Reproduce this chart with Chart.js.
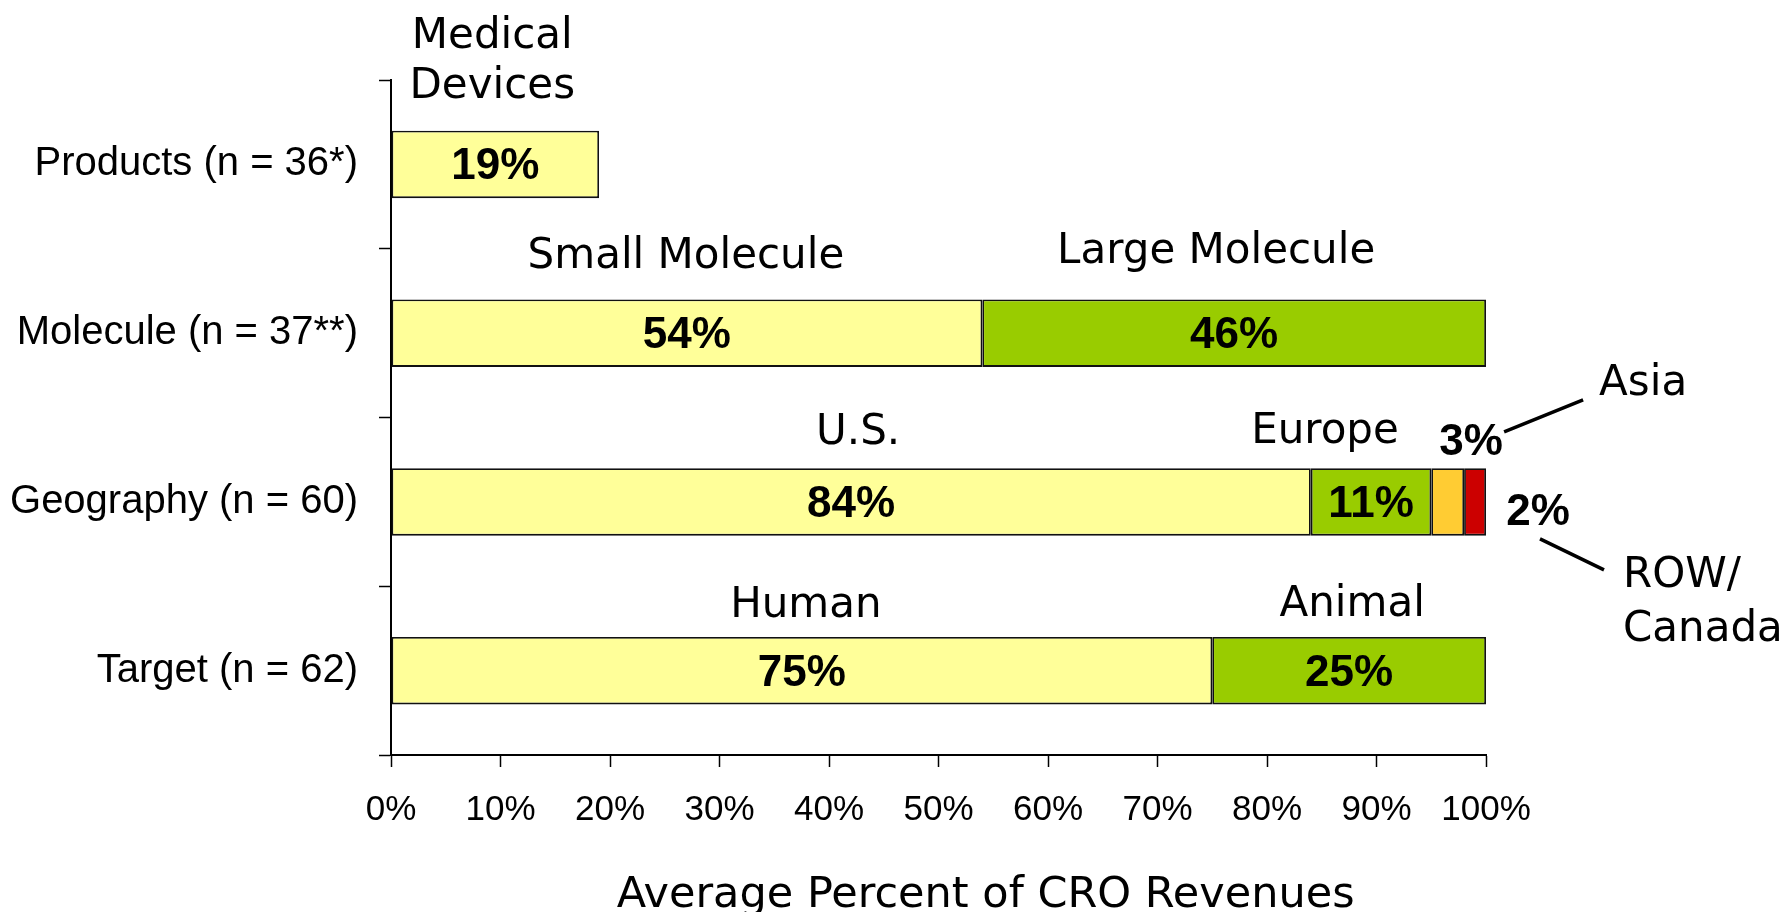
<!DOCTYPE html>
<html>
<head>
<meta charset="utf-8">
<script src="https://cdn.jsdelivr.net/npm/chart.js@4"></script>
<style>
  html, body { margin: 0; padding: 0; background: #fff; }
  canvas { display: block; }
</style>
</head>
<body>
<canvas id="croChart" width="1786" height="912"></canvas>
<script>
// --- data ---
const categories = ['Products (n = 36*)', 'Molecule (n = 37**)', 'Geography (n = 60)', 'Target (n = 62)'];
const firstShare = [19, 54, 84, 75];
const secondShare = [null, 46, 11, 25];
const thirdShare = [null, null, 3, null];
const fourthShare = [null, null, 2, null];
const firstNames = [['Medical', 'Devices'], ['Small Molecule'], ['U.S.'], ['Human']];
const secondNames = [null, ['Large Molecule'], ['Europe'], ['Animal']];
const thirdNames = [null, null, ['Asia'], null];
const fourthNames = [null, null, ['ROW/', 'Canada'], null];
const xTickLabels = ['0%', '10%', '20%', '30%', '40%', '50%', '60%', '70%', '80%', '90%', '100%'];
const axisTitle = 'Average Percent of CRO Revenues';

// --- look ---
const colors = ['#FFFF99', '#99CC00', '#FFCC33', '#CC0000'];
const nameFont = '42px "DejaVu Sans"';
const valueFont = 'bold 44px "Liberation Sans", Arial, sans-serif';

// where the segment names sit: [dx from segment centre, baseline dy of last line from bar top]
const nameOffsets = [
    [[-3, -33], [-1, -31], [7, -24], [4, -20]],
    [null, [-18, -36], [-46, -25], [3, -21]]
];

const annotate = {
    id: 'annotate',
    afterDatasetsDraw(chart) {
        const ctx = chart.ctx;
        ctx.save();
        ctx.fillStyle = '#000';

        // values inside the two main segments
        ctx.font = valueFont;
        ctx.textAlign = 'center';
        ctx.textBaseline = 'alphabetic';
        [0, 1].forEach(d => {
            chart.getDatasetMeta(d).data.forEach((bar, i) => {
                const v = chart.data.datasets[d].data[i];
                if (v == null) return;
                const p = bar.getProps(['x', 'y', 'base']);
                ctx.fillText(v + '%', (p.x + p.base) / 2, p.y + 15);
            });
        });

        // segment names above the bars
        ctx.font = nameFont;
        [firstNames, secondNames].forEach((names, d) => {
            chart.getDatasetMeta(d).data.forEach((bar, i) => {
                const lines = names[i];
                if (!lines) return;
                const p = bar.getProps(['x', 'y', 'base', 'height']);
                const off = nameOffsets[d][i];
                const cx = (p.x + p.base) / 2 + off[0];
                const top = p.y - p.height / 2;
                lines.forEach((t, k) => {
                    const dy = off[1] + (k - (lines.length - 1)) * 50;
                    ctx.fillText(t, cx, top + dy);
                });
            });
        });

        // small segments: labels outside with leader lines
        const asia = chart.getDatasetMeta(2).data[2].getProps(['x', 'y', 'height']);
        const row = chart.getDatasetMeta(3).data[2].getProps(['x', 'y', 'height']);

        ctx.font = valueFont;
        ctx.fillText(thirdShare[2] + '%', asia.x + 7, asia.y - 47);
        ctx.fillText(fourthShare[2] + '%', row.x + 52, row.y + 23);

        ctx.font = nameFont;
        ctx.textAlign = 'left';
        ctx.fillText(thirdNames[2][0], asia.x + 135, asia.y - 107);
        fourthNames[2].forEach((t, k) => ctx.fillText(t, row.x + 137, row.y + 85 + k * 54));

        ctx.strokeStyle = '#000';
        ctx.lineWidth = 3.5;
        ctx.beginPath();
        ctx.moveTo(asia.x + 40, asia.y - 70);
        ctx.lineTo(asia.x + 119, asia.y - 102);
        ctx.moveTo(row.x + 54, row.y + 37);
        ctx.lineTo(row.x + 118, row.y + 68);
        ctx.stroke();

        // axis title
        const xs = chart.scales.x;
        ctx.textAlign = 'center';
        ctx.font = '43px "DejaVu Sans"';
        ctx.fillText(axisTitle, xs.left + xs.width * 0.543, 907);
        ctx.restore();
    }
};

const makeSet = (data, color) => ({
    data: data,
    backgroundColor: color,
    borderColor: '#111',
    borderWidth: 1.8,
    borderSkipped: false,
    categoryPercentage: 1,
    barPercentage: 0.4
});

new Chart(document.getElementById('croChart'), {
    type: 'bar',
    data: {
        labels: categories,
        datasets: [
            makeSet(firstShare, colors[0]),
            makeSet(secondShare, colors[1]),
            makeSet(thirdShare, colors[2]),
            makeSet(fourthShare, colors[3])
        ]
    },
    options: {
        indexAxis: 'y',
        responsive: false,
        animation: false,
        layout: { padding: { top: 80, right: 300, left: 0, bottom: 0 } },
        plugins: { legend: { display: false }, tooltip: { enabled: false } },
        scales: {
            x: {
                stacked: true,
                min: 0,
                max: 100,
                ticks: {
                    stepSize: 10,
                    color: '#000',
                    padding: 22,
                    font: { family: '"Liberation Sans", Arial, sans-serif', size: 35 },
                    callback: (v, i) => xTickLabels[i]
                },
                grid: { drawOnChartArea: false, tickLength: 12, tickColor: '#000', tickWidth: 1.5 },
                border: { color: '#000', width: 2 },
                afterFit: s => { s.height = 157; }
            },
            y: {
                stacked: true,
                ticks: {
                    color: '#000',
                    padding: 21,
                    font: { family: '"Liberation Sans", Arial, sans-serif', size: 40 }
                },
                grid: { drawOnChartArea: false, offset: true, tickLength: 12, tickColor: '#000', tickWidth: 1.5 },
                border: { color: '#000', width: 2 },
                afterFit: s => { s.width = 391; }
            }
        }
    },
    plugins: [annotate]
});
</script>
</body>
</html>
